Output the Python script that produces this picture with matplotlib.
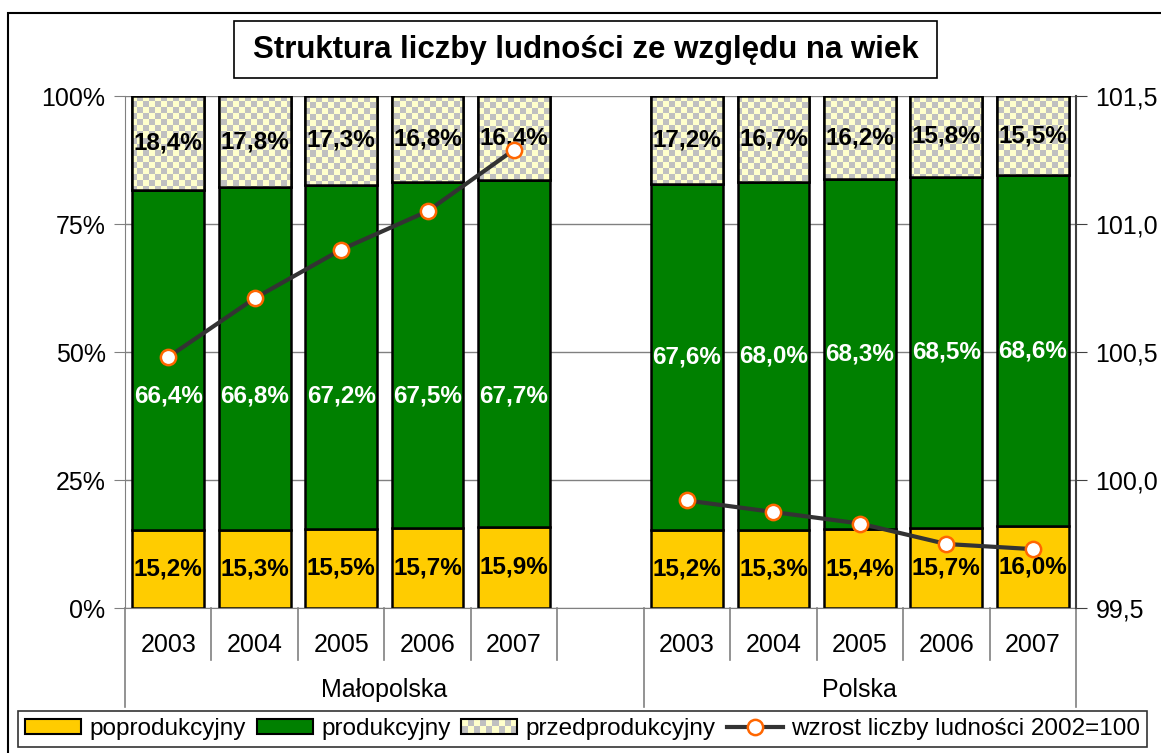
import matplotlib
matplotlib.use("Agg")
import matplotlib.pyplot as plt
import numpy as np
from matplotlib.patches import Rectangle
from matplotlib.legend_handler import HandlerBase
from matplotlib.lines import Line2D
from matplotlib.transforms import blended_transform_factory

plt.rcParams['font.family'] = ['Liberation Sans', 'DejaVu Sans']

# Dane
groups = ['Małopolska', 'Polska']
years = ['2003', '2004', '2005', '2006', '2007']

mp_poprod = [15.2, 15.3, 15.5, 15.7, 15.9]
mp_prod = [66.4, 66.8, 67.2, 67.5, 67.7]
mp_przed = [18.4, 17.8, 17.3, 16.8, 16.4]
mp_wzrost = [100.48, 100.71, 100.90, 101.05, 101.29]

pl_poprod = [15.2, 15.3, 15.4, 15.7, 16.0]
pl_prod = [67.6, 68.0, 68.3, 68.5, 68.6]
pl_przed = [17.2, 16.7, 16.2, 15.8, 15.5]
pl_wzrost = [99.92, 99.875, 99.83, 99.75, 99.73]

# Kolory
c_poprod = '#FFCC00'
c_prod = '#008000'
c_light = '#FFFFCC'
c_gray = '#C0C0C0'

FS = 17.5      # etykiety danych, legenda
FS_AX = 18     # opisy osi

fig = plt.figure(figsize=(11.61, 7.53), dpi=100)
ax = fig.add_axes([125/1161, 1-608/753, (1076-125)/1161, 512/753])

# pozycje: Małopolska 0-4, pusta 5, Polska 6-10
x_mp = np.arange(5)
x_pl = np.arange(6, 11)
xs = np.concatenate([x_mp, x_pl])
poprod = np.array(mp_poprod + pl_poprod)
prod = np.array(mp_prod + pl_prod)
przed = np.array(mp_przed + pl_przed)
tot = poprod + prod + przed
p1 = poprod / tot * 100
p2 = prod / tot * 100
p3 = przed / tot * 100

w = 0.83
ax.bar(xs, p1, w, color=c_poprod, edgecolor='black', linewidth=1.8, zorder=2)
ax.bar(xs, p2, w, bottom=p1, color=c_prod, edgecolor='black', linewidth=1.8, zorder=2)
top_bars = ax.bar(xs, p3, w, bottom=p1 + p2, color=c_light, edgecolor='black',
                  linewidth=1.8, zorder=2)

# wzór szachownicy w górnych segmentach
nx, ny = 159, 85
ii, jj = np.meshgrid(np.arange(nx), np.arange(ny))
chk = ((ii + jj) % 2 == 0)
img = np.zeros((ny, nx, 3))
img[chk] = matplotlib.colors.to_rgb(c_gray)
img[~chk] = matplotlib.colors.to_rgb(c_light)
for b in top_bars:
    im = ax.imshow(img, extent=[-0.5, 10.5, 0, 100], aspect='auto',
                   interpolation='nearest', zorder=2.1)
    im.set_clip_path(b)
    ax.add_patch(Rectangle(b.get_xy(), b.get_width(), b.get_height(), fill=False,
                           edgecolor='black', linewidth=1.8, zorder=2.2))

ax.set_xlim(-0.5, 10.5)
ax.set_ylim(0, 100)
ax.set_yticks([0, 25, 50, 75, 100])
ax.set_yticklabels(['0%', '25%', '50%', '75%', '100%'])
ax.yaxis.grid(True, color='#808080', linewidth=1.0, zorder=0)
ax.set_axisbelow(True)
ax.set_xticks([])
ax.tick_params(axis='y', labelsize=FS_AX, length=8, direction='out', color='#808080', pad=6)
for s in ['top', 'right']:
    ax.spines[s].set_visible(False)
ax.spines['left'].set_color('#808080')
ax.spines['bottom'].set_color('#808080')

# etykiety danych
for i, x in enumerate(xs):
    ax.text(x, p1[i] / 2, f'{poprod[i]:.1f}%'.replace('.', ','), ha='center', va='center',
            fontsize=FS, fontweight='bold', color='black', zorder=3)
    ymid = p1[i] + p2[i] / 2 if x > 5 else 41.5
    ax.text(x, ymid, f'{prod[i]:.1f}%'.replace('.', ','), ha='center', va='center',
            fontsize=FS, fontweight='bold', color='white', zorder=3)
    ax.text(x, p1[i] + p2[i] + p3[i] / 2, f'{przed[i]:.1f}%'.replace('.', ','),
            ha='center', va='center', fontsize=FS, fontweight='bold', color='black', zorder=3)

# oś kategorii
tr = blended_transform_factory(ax.transData, ax.transAxes)
for k in range(12):
    xb = k - 0.5
    y_end = -0.193 if k in (0, 6, 11) else -0.1016
    ax.add_line(Line2D([xb, xb], [0, y_end], transform=tr, color='#808080',
                       linewidth=1.2, clip_on=False))
for x, yr in zip(x_mp, years):
    ax.text(x, -0.0723, yr, transform=tr, ha='center', va='center', fontsize=FS_AX)
for x, yr in zip(x_pl, years):
    ax.text(x, -0.0723, yr, transform=tr, ha='center', va='center', fontsize=FS_AX)
ax.text(2.5, -0.160, groups[0], transform=tr, ha='center', va='center', fontsize=FS_AX)
ax.text(8.0, -0.160, groups[1], transform=tr, ha='center', va='center', fontsize=FS_AX)

# oś pomocnicza
ax2 = ax.twinx()
ax2.set_ylim(99.5, 101.5)
ax2.set_yticks([99.5, 100.0, 100.5, 101.0, 101.5])
ax2.set_yticklabels(['99,5', '100,0', '100,5', '101,0', '101,5'])
ax2.tick_params(axis='y', labelsize=FS_AX, length=8, color='#404040', pad=6)
for s in ['top', 'left', 'bottom']:
    ax2.spines[s].set_visible(False)
ax2.spines['right'].set_color('#404040')
ax2.spines['right'].set_linewidth(1.5)
line_kw = dict(color='#333333', linewidth=3, marker='o', markersize=11,
               markerfacecolor='white', markeredgecolor='#FF6600', markeredgewidth=1.8,
               zorder=5)
ax2.plot(x_mp, mp_wzrost, **line_kw)
ax2.plot(x_pl, pl_wzrost, **line_kw)


class CheckerHandler(HandlerBase):
    def create_artists(self, legend, orig_handle, xdescent, ydescent, width, height,
                       fontsize, trans):
        arts = [Rectangle((-xdescent, -ydescent), width, height, facecolor=c_light,
                          edgecolor='none', transform=trans)]
        ncol, nrow = 9, 2
        cw, ch = width / ncol, height / nrow
        for i in range(ncol):
            for j in range(nrow):
                if (i + j) % 2 == 0:
                    arts.append(Rectangle((-xdescent + i * cw, -ydescent + j * ch), cw, ch,
                                          facecolor=c_gray, edgecolor='none', transform=trans))
        arts.append(Rectangle((-xdescent, -ydescent), width, height, fill=False,
                              edgecolor='black', linewidth=1.5, transform=trans))
        return arts


h1 = Rectangle((0, 0), 1, 1, facecolor=c_poprod, edgecolor='black', linewidth=1.5)
h2 = Rectangle((0, 0), 1, 1, facecolor=c_prod, edgecolor='black', linewidth=1.5)
h3 = Rectangle((0, 0), 1, 1)
h4 = Line2D([], [], **line_kw)
leg = fig.legend([h1, h2, h3, h4],
                 ['poprodukcyjny', 'produkcyjny', 'przedprodukcyjny',
                  'wzrost liczby ludności 2002=100'],
                 handler_map={h3: CheckerHandler()},
                 loc='center', bbox_to_anchor=(582.5/1161, 1-729/753), ncol=4,
                 fontsize=FS, frameon=True, fancybox=False, edgecolor='black',
                 handlelength=2.3, handleheight=0.55, handletextpad=0.35,
                 columnspacing=0.45, borderpad=0.3, borderaxespad=0)
leg.get_frame().set_linewidth(1.2)

# tytuł w ramce
fig.add_artist(Rectangle((234/1161, 1-78/753), 703/1161, 57/753, transform=fig.transFigure,
                         facecolor='white', edgecolor='black', linewidth=1.2))
fig.text(585.5/1161, 1-50/753, 'Struktura liczby ludności ze względu na wiek',
         ha='center', va='center', fontsize=22.5, fontweight='bold')

# ramka wykresu
fig.add_artist(Rectangle((8/1161, -0.1), 1.2, 1 - 13/753 + 0.1, transform=fig.transFigure,
                         fill=False, edgecolor='black', linewidth=1.5, zorder=-1))

fig.savefig('out.png', dpi=100)
